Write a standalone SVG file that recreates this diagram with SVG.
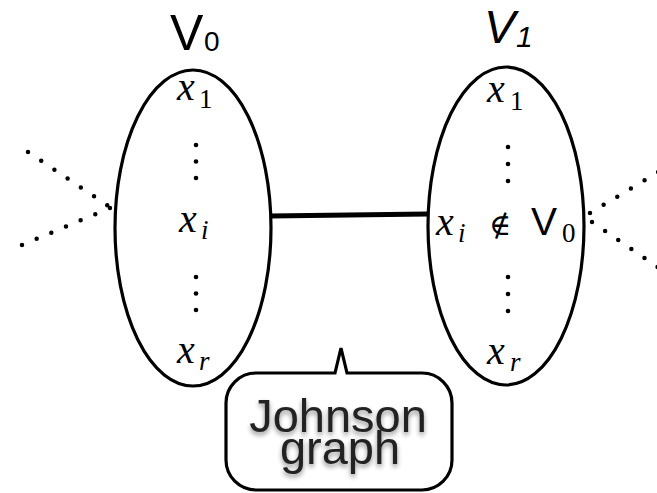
<svg xmlns="http://www.w3.org/2000/svg" width="657" height="493" viewBox="0 0 657 493">
<style>
.set{fill:none;stroke:#000;stroke-width:3.2}
.dots{fill:none;stroke:#000;stroke-width:4.5;stroke-linecap:round;stroke-dasharray:0 15.9}
.m{font-family:'Liberation Serif','DejaVu Serif',serif;font-style:italic;font-size:40px;fill:#000}
.sub{font-family:'Liberation Serif','DejaVu Serif',serif;font-size:27px;fill:#000}
.lbl{font-family:'Liberation Sans',Arial,sans-serif;fill:#000}
.jg{font-family:'Liberation Sans',Arial,sans-serif;font-size:47px;fill:#222;text-anchor:middle}
</style>
<defs>
<filter id="sh" x="-20%" y="-30%" width="140%" height="160%">
<feGaussianBlur in="SourceAlpha" stdDeviation="2.5"/>
<feOffset dx="0" dy="3"/>
<feComponentTransfer><feFuncA type="linear" slope="0.45"/></feComponentTransfer>
<feMerge><feMergeNode/><feMergeNode in="SourceGraphic"/></feMerge>
</filter>
</defs>
<g id="connectors">
<line x1="270" y1="216" x2="428" y2="214" stroke="#000" stroke-width="5"/>
<line class="dots" x1="28" y1="152" x2="108.5" y2="206"/>
<line class="dots" x1="22" y1="245" x2="110" y2="208"/>
<line class="dots" x1="590" y1="213" x2="665" y2="168"/>
<line class="dots" x1="592" y1="222" x2="665" y2="272"/>
</g>
<g id="V0">
<ellipse class="set" cx="193" cy="228" rx="78" ry="158"/>
<text class="lbl" x="170" y="50" font-size="50">V</text>
<text class="lbl" x="204" y="51" font-size="28">0</text>
<text class="m" x="177" y="100">x</text><text class="sub" x="199" y="108">1</text>
<circle cx="196" cy="145" r="2.3"/><circle cx="196" cy="161.5" r="2.3"/><circle cx="196" cy="178" r="2.3"/>
<text class="m" x="179" y="232">x</text><text class="sub" x="201" y="239" font-style="italic">i</text>
<circle cx="196" cy="277" r="2.3"/><circle cx="196" cy="293.5" r="2.3"/><circle cx="196" cy="310" r="2.3"/>
<text class="m" x="177" y="363">x</text><text class="sub" x="199" y="370" font-style="italic">r</text>
</g>
<g id="V1">
<ellipse class="set" cx="506" cy="226" rx="78" ry="159"/>
<text class="lbl" x="484" y="43" font-size="47" font-style="italic">V</text>
<text class="lbl" x="516" y="47" font-size="30" font-style="italic">1</text>
<text class="m" x="487" y="102">x</text><text class="sub" x="510" y="110">1</text>
<circle cx="508" cy="147" r="2.3"/><circle cx="508" cy="164" r="2.3"/><circle cx="508" cy="181" r="2.3"/>
<text class="m" x="436" y="235">x</text><text class="sub" x="458" y="242" font-style="italic">i</text>
<text x="489" y="235" font-family="'DejaVu Serif','DejaVu Sans',serif" font-size="30">∉</text>
<text class="lbl" x="531" y="235" font-size="39">V</text>
<text class="sub" x="562" y="242">0</text>
<circle cx="508" cy="277" r="2.3"/><circle cx="508" cy="294" r="2.3"/><circle cx="508" cy="311" r="2.3"/>
<text class="m" x="487" y="364">x</text><text class="sub" x="510" y="371" font-style="italic">r</text>
</g>
<g id="callout">
<path d="M256,373 H335 L341,348 L347,373 H422 A30,30 0 0 1 452,403 V460 A30,30 0 0 1 422,490 H256 A30,30 0 0 1 226,460 V403 A30,30 0 0 1 256,373 Z" fill="#fff" stroke="#000" stroke-width="3.2"/>
<g filter="url(#sh)">
<text class="jg" x="338" y="432">Johnson</text>
<text class="jg" x="340" y="464">graph</text>
</g>
</g>
</svg>
